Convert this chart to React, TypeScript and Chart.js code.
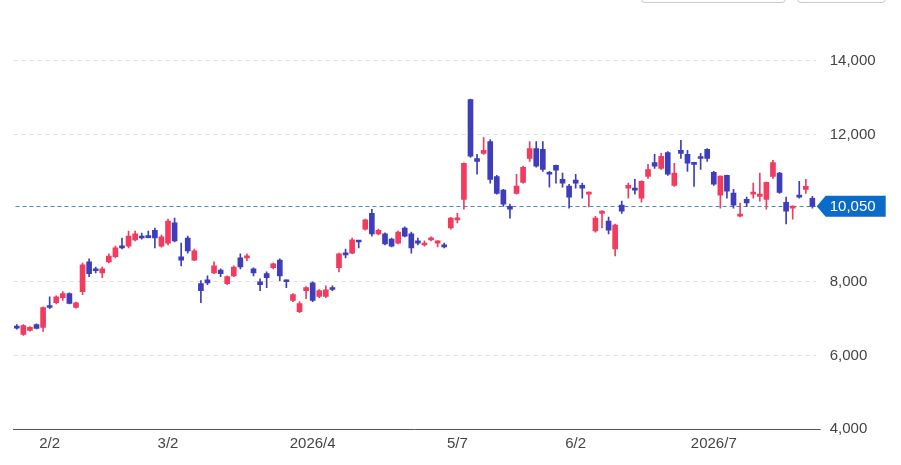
import React, { useEffect, useRef } from "react";
import { Chart, registerables } from "chart.js";

Chart.register(...registerables);

// Trading days (categories)
const dates = (
  "1/26 1/27 1/28 1/29 1/30 2/2 2/3 2/4 2/5 2/6 2/9 2/10 2/12 2/13 2/16 2/17 2/18 2/19 2/20 " +
  "2/24 2/25 2/26 2/27 3/2 3/3 3/4 3/5 3/6 3/9 3/10 3/11 3/12 3/13 3/16 3/17 3/18 3/19 3/20 " +
  "3/23 3/24 3/25 3/26 3/27 3/30 3/31 4/1 4/2 4/3 4/6 4/7 4/8 4/9 4/10 4/13 4/14 4/15 4/16 4/17 " +
  "4/20 4/21 4/22 4/23 4/24 4/27 4/28 4/30 5/1 5/7 5/8 5/11 5/12 5/13 5/14 5/15 5/18 5/19 5/20 " +
  "5/21 5/22 5/25 5/26 5/27 5/28 5/29 6/1 6/2 6/3 6/4 6/5 6/8 6/9 6/10 6/11 6/12 6/15 6/16 6/17 " +
  "6/18 6/19 6/22 6/23 6/24 6/25 6/26 6/29 6/30 7/1 7/2 7/3 7/6 7/7 7/8 7/9 7/10 7/13 7/14 7/15 " +
  "7/16 7/17 7/21 7/22 7/23"
).split(" ");

// Dates that carry an x-axis label, and the label shown
const tickLabels: Record<string, string> = {
  "2/2": "2/2",
  "3/2": "3/2",
  "4/1": "2026/4",
  "5/7": "5/7",
  "6/2": "6/2",
  "7/1": "2026/7",
};

const opens = [
  6780, 6570, 6680, 6840, 6760, 7350, 7430, 7570, 7680, 7300,
  7730, 8540, 8350, 8240, 8540, 8680, 8970, 8970, 9140, 9240,
  9240, 9400, 8970, 9050, 9600, 8680, 9190, 8590, 7950, 8050,
  8240, 8320, 7950, 8160, 8650, 8650, 8350, 8000, 8220, 8380,
  8590, 8030, 7490, 7190, 7760, 7970, 7600, 7600, 7840, 8380,
  8780, 8780, 9110, 9430, 9860, 9300, 9300, 9160, 9050, 9460,
  9300, 9110, 9000, 9140, 9050, 8970, 9460, 9680, 10240, 12950,
  11350, 11490, 11810, 10860, 10490, 10050, 10400, 10700, 11350, 11620,
  11600, 10970, 11160, 10780, 10600, 10760, 10620, 10380, 9380, 9860,
  9650, 8890, 10080, 10540, 10540, 10270, 10860, 11240, 11080, 11510,
  10620, 11570, 11460, 11220, 11380, 11600, 10970, 10350, 10890, 10410,
  9780, 10240, 10380, 10320, 10240, 10860, 10950, 10160, 10000, 10350,
  10510, 10270,
];

const highs = [
  6840, 6840, 6780, 6860, 7320, 7590, 7620, 7730, 7700, 7450,
  8510, 8620, 8400, 8400, 8760, 8970, 9190, 9380, 9380, 9320,
  9380, 9460, 9270, 9700, 9730, 9050, 9240, 8890, 8030, 8160,
  8540, 8350, 8160, 8430, 8760, 8760, 8380, 8080, 8270, 8510,
  8620, 8050, 7680, 7460, 7870, 8000, 7790, 7890, 7890, 8780,
  8890, 9190, 9120, 9700, 9970, 9430, 9330, 9190, 9380, 9490,
  9350, 9190, 9110, 9220, 9120, 9050, 9750, 9860, 11230, 12960,
  11460, 11920, 11860, 10890, 10510, 10110, 10920, 11140, 11810, 11810,
  11810, 11000, 11170, 10950, 10650, 10920, 10680, 10440, 9780, 9930,
  9760, 9570, 10190, 10680, 10780, 10740, 11190, 11460, 11490, 11540,
  11220, 11840, 11570, 11230, 11490, 11620, 11000, 10880, 10900, 10510,
  10140, 10300, 10680, 10950, 10710, 11300, 10970, 10300, 10060, 10730,
  10780, 10320,
];

const lows = [
  6710, 6540, 6660, 6720, 6650, 7270, 7400, 7490, 7400, 7280,
  7650, 8140, 8240, 8110, 8510, 8650, 8890, 8920, 9110, 9160,
  9190, 8920, 8940, 9000, 9080, 8430, 8780, 8570, 7430, 7920,
  8220, 8140, 7920, 8140, 8350, 8570, 8160, 7760, 7840, 8350,
  8030, 7840, 7460, 7160, 7540, 7460, 7570, 7570, 7760, 8270,
  8650, 8760, 8920, 9400, 9240, 9270, 9000, 8950, 9030, 9220,
  8780, 9000, 8970, 9110, 8950, 8920, 9430, 9600, 9970, 11380,
  10920, 11460, 10680, 10380, 10050, 9730, 10380, 10680, 11270, 11110,
  11000, 10570, 10680, 10570, 10000, 10540, 10270, 10030, 9350, 9460,
  9300, 8700, 9860, 10270, 10380, 10160, 10810, 11080, 11050, 10890,
  10590, 11350, 11000, 10590, 11050, 11270, 10620, 10000, 10270, 10000,
  9760, 10050, 10270, 10190, 9970, 10810, 10400, 9570, 9700, 10270,
  10400, 10000,
];

const closes = [
  6740, 6810, 6760, 6730, 7300, 7300, 7590, 7680, 7410, 7430,
  8460, 8220, 8300, 8350, 8700, 8920, 8920, 9240, 9300, 9190,
  9200, 9190, 9220, 9650, 9110, 8590, 8840, 8840, 7760, 7970,
  8430, 8220, 8140, 8400, 8400, 8680, 8240, 7920, 8110, 8490,
  8160, 8000, 7650, 7410, 7840, 7490, 7760, 7780, 7790, 8760,
  8730, 9140, 9080, 9680, 9300, 9400, 9030, 8970, 9350, 9240,
  8920, 9050, 9050, 9190, 9110, 8950, 9730, 9730, 11220, 11410,
  11270, 11570, 10780, 10400, 10110, 9970, 10600, 11110, 11620, 11140,
  11050, 10920, 11030, 10680, 10300, 10680, 10540, 10430, 9730, 9920,
  9400, 9540, 9920, 10620, 10490, 10730, 11050, 11140, 11410, 10920,
  10950, 11490, 11220, 11190, 11350, 11350, 10650, 10870, 10460, 10080,
  9840, 10140, 10410, 10380, 10700, 11240, 10430, 9920, 10050, 10300,
  10590, 10050,
];

const yTicks = [4000, 6000, 8000, 10000, 12000, 14000];
const lastPrice = 10050;

const UP = "#f23b5f";
const DOWN = "#3e3ebc";

export default function App() {
  const ref = useRef<HTMLCanvasElement>(null);

  useEffect(() => {
    document.body.style.margin = "0";
    const canvas = ref.current!;
    const colors = opens.map((o, i) => (closes[i] >= o ? UP : DOWN));

    const pricePlugin = {
      id: "lastPrice",
      beforeDatasetsDraw(chart: any) {
        const { ctx, chartArea, scales } = chart;
        const py = Math.round(scales.y.getPixelForValue(lastPrice)) + 0.5;
        ctx.save();
        ctx.strokeStyle = "#3f88d6";
        ctx.lineWidth = 1;
        ctx.setLineDash([4, 3]);
        ctx.beginPath();
        ctx.moveTo(chartArea.left + 2, py);
        ctx.lineTo(chartArea.right, py);
        ctx.stroke();
        ctx.restore();
      },
      afterDraw(chart: any) {
        const { ctx, chartArea, scales } = chart;
        const py = scales.y.getPixelForValue(lastPrice);
        const x0 = chartArea.right + 1;
        const h = 10.5;
        ctx.save();
        ctx.fillStyle = "#0b6bc9";
        ctx.beginPath();
        ctx.moveTo(x0, py);
        ctx.lineTo(x0 + 9, py - h);
        ctx.lineTo(x0 + 69, py - h);
        ctx.lineTo(x0 + 69, py + h);
        ctx.lineTo(x0 + 9, py + h);
        ctx.closePath();
        ctx.fill();
        ctx.fillStyle = "#ffffff";
        ctx.font = "15px 'Liberation Sans', Arial, sans-serif";
        ctx.textBaseline = "middle";
        ctx.textAlign = "left";
        ctx.fillText(lastPrice.toLocaleString("en-US"), x0 + 13, py + 1);
        // axis line extends slightly past the plot, as in the reference
        ctx.strokeStyle = "#555555";
        ctx.lineWidth = 1;
        const by = Math.round(chartArea.bottom) + 0.5;
        ctx.beginPath();
        ctx.moveTo(chartArea.right - 1, by);
        ctx.lineTo(chartArea.right + 5, by);
        ctx.stroke();
        ctx.restore();
      },
    };

    const chart = new Chart(canvas, {
      type: "bar",
      data: {
        labels: dates,
        datasets: [
          {
            data: opens.map((o, i) => [Math.min(o, closes[i]), Math.max(o, closes[i])]) as any,
            backgroundColor: colors,
            barThickness: 5,
            minBarLength: 2,
            grouped: false,
            borderWidth: 0,
            order: 0,
          },
          {
            data: highs.map((h, i) => [lows[i], h]) as any,
            backgroundColor: colors,
            barThickness: 1,
            grouped: false,
            borderWidth: 0,
            order: 1,
          },
        ],
      },
      plugins: [pricePlugin],
      options: {
        animation: false,
        responsive: false,
        devicePixelRatio: 1,
        layout: { padding: { left: 13.5, top: 3.5, right: 0, bottom: 0 } },
        plugins: { legend: { display: false }, tooltip: { enabled: false } },
        scales: {
          x: {
            type: "category",
            offset: true,
            grid: { display: false },
            border: { display: true, color: "#555555", width: 1 },
            ticks: {
              autoSkip: false,
              maxRotation: 0,
              minRotation: 0,
              padding: -2,
              color: "#444444",
              font: { size: 15, family: "'Liberation Sans', Arial, sans-serif" },
              callback: (_v: any, i: number) => tickLabels[dates[i]] ?? "",
            },
            afterFit: (s: any) => {
              s.height = 36;
            },
          },
          y: {
            position: "right",
            min: 4000,
            max: 15030,
            afterBuildTicks: (s: any) => {
              s.ticks = yTicks.map((v) => ({ value: v }));
            },
            grid: {
              drawTicks: false,
              color: (c: any) =>
                c.tick && (c.tick.value === 10000 || c.tick.value === 4000) ? "rgba(0,0,0,0)" : "#dedede",
            },
            border: { display: false, dash: [4, 4] },
            ticks: {
              padding: 14,
              color: "#444444",
              font: { size: 15, family: "'Liberation Sans', Arial, sans-serif" },
              callback: (v: any) => (v === 10000 ? "" : Number(v).toLocaleString("en-US")),
            },
            afterFit: (s: any) => {
              s.width = 901 - 815.7;
            },
          },
        },
      },
    });
    return () => chart.destroy();
  }, []);

  return (
    <div style={{ position: "relative", width: 901, height: 465, overflow: "hidden", background: "#fff" }}>
      <div
        style={{
          position: "absolute",
          left: 641,
          top: -30,
          width: 143,
          height: 31,
          border: "1px solid #c9c9c9",
          borderRadius: 4,
        }}
      />
      <div
        style={{
          position: "absolute",
          left: 797,
          top: -30,
          width: 87,
          height: 31,
          border: "1px solid #c9c9c9",
          borderRadius: 4,
        }}
      />
      <canvas ref={ref} width={901} height={465} style={{ display: "block", width: 901, height: 465 }} />
    </div>
  );
}
